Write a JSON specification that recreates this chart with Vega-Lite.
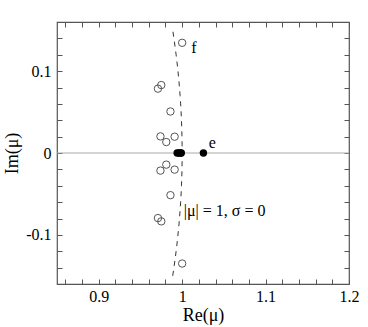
{
  "$schema": "https://vega.github.io/schema/vega-lite/v6.json",
  "autosize": "none",
  "width": 292,
  "height": 262,
  "padding": {"left": 57, "top": 22, "right": 19, "bottom": 43},
  "config": {
    "view": {"stroke": "#555", "strokeWidth": 1.2},
    "font": "Liberation Serif",
    "axis": {
      "domain": false, "ticks": false, "grid": true,
      "gridColor": "#555", "gridOpacity": 1, "gridWidth": 1,
      "labelFont": "Liberation Serif", "titleFont": "Liberation Serif",
      "labelFontSize": 16, "titleFontSize": 18, "titleFontWeight": "normal",
      "labelColor": "#000", "titleColor": "#000",
      "labelFlush": false, "labelOverlap": false
    }
  },
  "datasets": {
    "circle": [
      {"re": 0.98869, "im": -0.15}, {"re": 0.99015, "im": -0.14}, {"re": 0.99151, "im": -0.13},
      {"re": 0.99277, "im": -0.12}, {"re": 0.99393, "im": -0.11}, {"re": 0.99499, "im": -0.10},
      {"re": 0.99594, "im": -0.09}, {"re": 0.9968, "im": -0.08}, {"re": 0.99755, "im": -0.07},
      {"re": 0.9982, "im": -0.06}, {"re": 0.99875, "im": -0.05}, {"re": 0.9992, "im": -0.04},
      {"re": 0.99955, "im": -0.03}, {"re": 0.9998, "im": -0.02}, {"re": 0.99995, "im": -0.01},
      {"re": 1.0, "im": 0.0},
      {"re": 0.99995, "im": 0.01}, {"re": 0.9998, "im": 0.02}, {"re": 0.99955, "im": 0.03},
      {"re": 0.9992, "im": 0.04}, {"re": 0.99875, "im": 0.05}, {"re": 0.9982, "im": 0.06},
      {"re": 0.99755, "im": 0.07}, {"re": 0.9968, "im": 0.08}, {"re": 0.99594, "im": 0.09},
      {"re": 0.99499, "im": 0.10}, {"re": 0.99393, "im": 0.11}, {"re": 0.99277, "im": 0.12},
      {"re": 0.99151, "im": 0.13}, {"re": 0.99015, "im": 0.14}, {"re": 0.98869, "im": 0.15}
    ],
    "open": [
      {"re": 1.0, "im": 0.1346}, {"re": 0.975, "im": 0.083}, {"re": 0.971, "im": 0.0786},
      {"re": 0.986, "im": 0.0507}, {"re": 0.974, "im": 0.0203}, {"re": 0.991, "im": 0.0199},
      {"re": 0.981, "im": 0.0134}, {"re": 0.981, "im": -0.0142}, {"re": 0.974, "im": -0.0215},
      {"re": 0.991, "im": -0.0203}, {"re": 0.986, "im": -0.0515}, {"re": 0.971, "im": -0.0795},
      {"re": 0.975, "im": -0.0835}, {"re": 1.0, "im": -0.135}
    ],
    "filled": [
      {"re": 0.994, "im": 0}, {"re": 0.996, "im": 0}, {"re": 0.998, "im": 0}, {"re": 0.999, "im": 0},
      {"re": 1.0255, "im": 0}
    ],
    "labels": [
      {"re": 1.011, "im": 0.128, "label": "f"},
      {"re": 1.032, "im": 0.012, "label": "e"},
      {"re": 1.002, "im": -0.071, "label": "|μ| = 1, σ = 0"}
    ],
    "zero": [{"re": 0.85, "im": 0}, {"re": 1.2, "im": 0}]
  },
  "encoding": {
    "x": {"field": "re", "type": "quantitative", "title": "Re(μ)",
      "scale": {"domain": [0.85, 1.2], "nice": false, "zero": false},
      "axis": {"orient": "bottom", "titlePadding": 2,
        "values": [0.86,0.88,0.9,0.92,0.94,0.96,0.98,1,1.02,1.04,1.06,1.08,1.1,1.12,1.14,1.16,1.18,1.2],
        "labelExpr": "abs(datum.value - 0.9) < 0.001 ? '0.9' : abs(datum.value - 1) < 0.001 ? '1' : abs(datum.value - 1.1) < 0.001 ? '1.1' : abs(datum.value - 1.2) < 0.001 ? '1.2' : ''",
        "gridDash": [5, 252, 5, 0],
        "labelFont": "Liberation Serif", "labelFontSize": 16,
        "labelPadding": 4}},
    "y": {"field": "im", "type": "quantitative", "title": "Im(μ)",
      "scale": {"domain": [-0.16, 0.16], "nice": false, "zero": false},
      "axis": {"orient": "left", "titlePadding": 4,
        "values": [-0.14,-0.12,-0.1,-0.08,-0.06,-0.04,-0.02,0,0.02,0.04,0.06,0.08,0.1,0.12,0.14],
        "labelExpr": "abs(datum.value - 0.1) < 0.001 ? '0.1' : abs(datum.value + 0.1) < 0.001 ? '-0.1' : abs(datum.value) < 0.001 ? '0' : ''",
        "gridDash": [5, 282, 5, 0],
        "labelFont": "Liberation Serif", "labelFontSize": 16,
        "labelPadding": 6}}
  },
  "layer": [
    {
      "data": {"name": "zero"},
      "mark": {"type": "line", "color": "#aaa", "strokeWidth": 1},
      "encoding": {}
    },
    {
      "data": {"name": "circle"},
      "mark": {"type": "line", "color": "#333", "strokeWidth": 1, "strokeDash": [5, 5]},
      "encoding": {
        "order": {"field": "im", "type": "quantitative"}
      }
    },
    {
      "data": {"name": "open"},
      "mark": {"type": "point", "shape": "circle", "filled": false, "size": 55, "color": "#555", "strokeWidth": 1, "opacity": 1}
    },
    {
      "data": {"name": "filled"},
      "mark": {"type": "circle", "size": 55, "color": "#000", "opacity": 1}
    },
    {
      "data": {"name": "labels"},
      "mark": {"type": "text", "align": "left", "baseline": "middle", "font": "Liberation Serif", "fontSize": 16, "color": "#000"},
      "encoding": {
        "text": {"field": "label"}
      }
    }
  ]
}
